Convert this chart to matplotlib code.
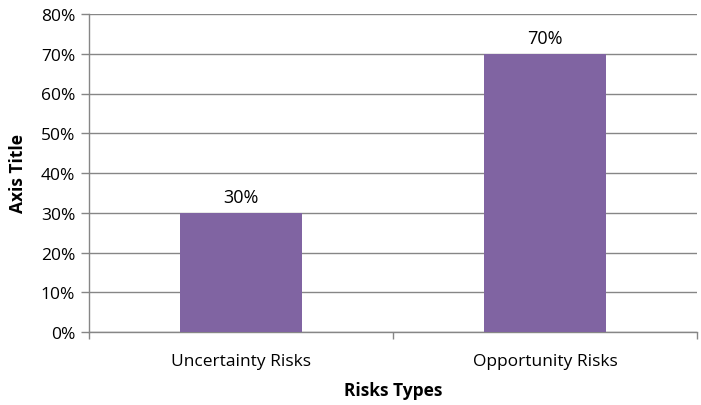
import matplotlib.pyplot as plt
from matplotlib.ticker import PercentFormatter, FixedLocator

categories = ["Uncertainty Risks", "Opportunity Risks"]
values = [30, 70]
y_ticks = [0, 10, 20, 30, 40, 50, 60, 70, 80]

plt.rcParams["font.family"] = ["Open Sans", "DejaVu Sans"]

BAR = "#8064A2"
GRID = "#868686"

fig = plt.figure(figsize=(7.01, 4.06), dpi=100)
ax = fig.add_axes([89 / 701, 1 - 333 / 406, 608 / 701, 318 / 406])

x = list(range(len(categories)))
bars = ax.bar(x, values, width=0.4, color=BAR, zorder=3)
for rect, v in zip(bars, values):
    ax.annotate(f"{v}%", (rect.get_x() + rect.get_width() / 2, v),
                xytext=(0, 5), textcoords="offset points",
                ha="center", va="bottom", fontsize=13, color="black")

ax.set_xlim(-0.5, len(categories) - 0.5)
ax.set_ylim(0, 80)
ax.set_yticks(y_ticks)
ax.yaxis.set_major_formatter(PercentFormatter(decimals=0))
ax.grid(axis="y", color=GRID, linewidth=1, zorder=0)

# category labels centred, tick marks between categories
ax.set_xticks(x)
ax.set_xticklabels(categories, fontsize=12.5)
ax.tick_params(axis="x", length=0, pad=15)
ax.xaxis.set_minor_locator(FixedLocator([-0.5, 0.5, 1.5]))
ax.tick_params(axis="x", which="minor", length=5, color=GRID, width=1)
ax.tick_params(axis="y", length=6, color=GRID, width=1, labelsize=12.5, pad=4)

for side in ["top", "right"]:
    ax.spines[side].set_visible(False)
for side in ["left", "bottom"]:
    ax.spines[side].set_color(GRID)
    ax.spines[side].set_linewidth(1)

ax.set_xlabel("Risks Types", fontsize=12.5, fontweight="bold", labelpad=9)
ax.set_ylabel("Axis Title", fontsize=12.5, fontweight="bold", labelpad=10)

fig.savefig("out.png", dpi=100)
